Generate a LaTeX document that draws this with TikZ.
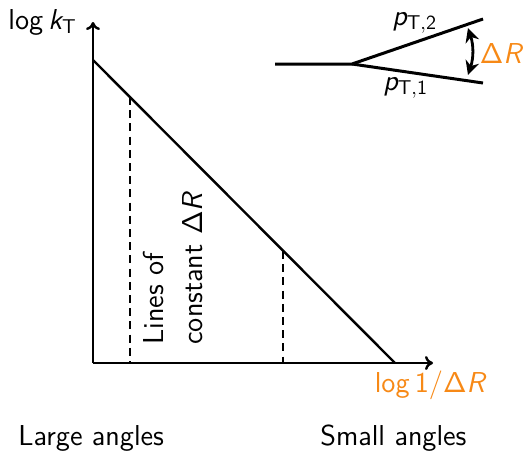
\documentclass[tikz,border=0pt]{standalone}
\usepackage{fix-cm}
\usetikzlibrary{arrows.meta}
\DeclareSymbolFont{sfletters}{OT1}{cmss}{m}{sl}
\SetSymbolFont{operators}{normal}{OT1}{cmss}{m}{n}
\DeclareMathSymbol{k}{\mathalpha}{sfletters}{`k}
\DeclareMathSymbol{p}{\mathalpha}{sfletters}{`p}
\DeclareMathSymbol{R}{\mathalpha}{sfletters}{`R}
\definecolor{myorange}{RGB}{247,137,22}
\tikzset{
  txt/.style={inner sep=0pt, font=\fontsize{14.4}{18}\selectfont\sffamily},
  axis/.style={line width=1.2pt, -{To[length=4pt,width=7pt]}},
  thick line/.style={line width=1.5pt},
  dashline/.style={line width=1pt, dash pattern=on 4pt off 2.6pt},
}
\begin{document}
\begin{tikzpicture}[x=0.5pt,y=-0.5pt]
\useasboundingbox (0,0) rectangle (523,451);
% axes
\coordinate (O) at (93,363);
\coordinate (ytip) at (93,22);
\coordinate (xtip) at (433,363);
\draw[axis] (O) -- (ytip);
\draw[axis] (O) -- (xtip);
% diagonal
\coordinate (d1) at (93,60);
\coordinate (d2) at (395,363);
\draw[line width=1.2pt] (d1) -- (d2);
% dashed lines
\coordinate (a1) at (130,97);
\coordinate (a2) at (130,363);
\coordinate (b1) at (283,251);
\coordinate (b2) at (283,363);
\draw[dashline] (a1) -- (a2);
\draw[dashline] (b1) -- (b2);
% labels
\node[txt, anchor=base west] (ylab) at (8,29) {$\log k_{\mathrm{T}}$};
\node[txt, anchor=base, text=myorange] (xlab) at (431,392) {$\log 1/\Delta R$};
\node[txt, anchor=base west] (large) at (18,445) {Large angles};
\node[txt, anchor=base west] (small) at (320,445) {Small angles};
\node[txt, rotate=90, anchor=base west] (lines1) at (163,345) {Lines of};
\node[txt, rotate=90, anchor=base west] (lines2) at (202,345) {constant $\Delta R$};
% inset
\coordinate (v) at (352,64);
\coordinate (s) at (275,64);
\coordinate (u) at (483,19);
\coordinate (l) at (483,83);
\draw[thick line] (s) -- (v) -- (u);
\draw[thick line] (v) -- (l);
\coordinate (ar1) at (468,28);
\coordinate (ar2) at (468,75);
\draw[line width=1.4pt, {Stealth[length=7pt,width=7pt]}-{Stealth[length=7pt,width=7pt]}] (ar1) to[bend left=18] (ar2);
\node[txt, anchor=base west] (p2) at (392,25) {$p_{\mathrm{T},2}$};
\node[txt, anchor=base west] (p1) at (383,90) {$p_{\mathrm{T},1}$};
\node[txt, anchor=base west, text=myorange] (dr) at (479.5,63) {$\Delta R$};
\end{tikzpicture}
\end{document}
